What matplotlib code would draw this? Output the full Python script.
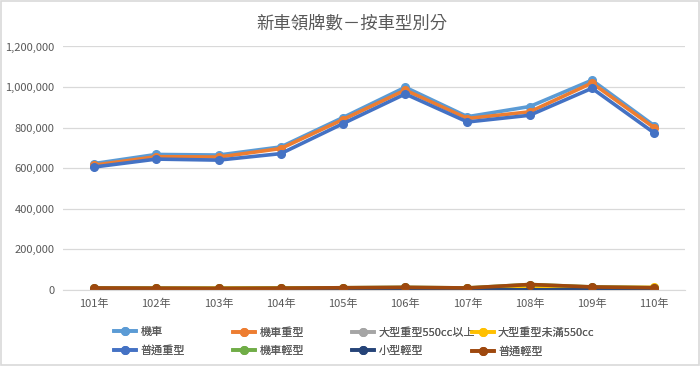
import matplotlib
matplotlib.use("Agg")
import matplotlib.pyplot as plt
from matplotlib.ticker import FuncFormatter, MultipleLocator
from matplotlib.patches import Rectangle

plt.rcParams['font.family'] = ['Noto Sans CJK TC', 'DejaVu Sans']

years = ["101年", "102年", "103年", "104年", "105年", "106年", "107年", "108年", "109年", "110年"]

motor_total = [623000, 668000, 665000, 705000, 850000, 999000, 854000, 904000, 1034000, 810000]
motor_heavy = [615000, 657000, 655000, 697000, 840000, 985000, 845000, 878000, 1020000, 800000]
large_550_up = [2000, 2200, 2500, 3000, 3300, 3600, 3500, 4000, 4200, 4000]
large_under_550 = [7000, 8000, 9000, 10000, 10000, 11000, 9000, 17000, 12000, 13000]
normal_heavy = [606000, 645000, 640000, 672000, 820000, 966000, 828000, 861000, 994000, 774000]
motor_light = [10000, 9000, 8000, 9000, 11000, 13000, 10000, 27000, 15000, 11000]
small_light = [500, 400, 400, 400, 500, 600, 500, 600, 600, 500]
normal_light = [10000, 9000, 8000, 9000, 11000, 13000, 10000, 27000, 15000, 11000]

series = [
    ("機車", motor_total, "#5B9BD5"),
    ("機車重型", motor_heavy, "#ED7D31"),
    ("大型重型550cc以上", large_550_up, "#A5A5A5"),
    ("大型重型未滿550cc", large_under_550, "#FFC000"),
    ("普通重型", normal_heavy, "#4472C4"),
    ("機車輕型", motor_light, "#70AD47"),
    ("小型輕型", small_light, "#264478"),
    ("普通輕型", normal_light, "#9E480E"),
]

fig = plt.figure(figsize=(7.0, 3.66), dpi=100)
ax = fig.add_axes([0.09, 0.2077, 0.889, 0.6653])

x = list(range(len(years)))
handles = []
for name, vals, col in series:
    h, = ax.plot(x, vals, color=col, lw=2.6, marker='o', markersize=5.5,
                 markerfacecolor=col, markeredgecolor=col, label=name,
                 solid_joinstyle='round')
    handles.append(h)

ax.set_xlim(-0.5, len(years) - 0.5)
ax.set_ylim(0, 1200000)
ax.yaxis.set_major_locator(MultipleLocator(200000))
ax.yaxis.set_major_formatter(FuncFormatter(lambda v, p: f"{int(v):,}"))
ax.set_xticks(x)
ax.set_xticklabels(years)
ax.grid(axis='y', color='#D9D9D9', lw=0.9)
ax.set_axisbelow(True)
for s in ['top', 'right', 'left']:
    ax.spines[s].set_visible(False)
ax.spines['bottom'].set_color('#D9D9D9')
ax.tick_params(axis='both', length=0, labelsize=8, colors='#595959')
ax.tick_params(axis='x', pad=6)
ax.tick_params(axis='y', pad=6)

fig.text(0.502, 0.935, "新車領牌數－按車型別分", ha='center', va='center',
         fontsize=12.5, color='#595959')

# legend: 4 columns of 2 entries, fixed spacing
col_x = [0.163, 0.333, 0.503, 0.674]
for i in range(4):
    hs = [handles[i], handles[i + 4]]
    leg = fig.legend(hs, [h.get_label() for h in hs], loc='upper left',
                     bbox_to_anchor=(col_x[i], 0.106), frameon=False,
                     fontsize=8, labelcolor='#595959', handlelength=2.0,
                     handletextpad=0.35, labelspacing=0.75, borderaxespad=0,
                     borderpad=0)
    fig.add_artist(leg)

fig.add_artist(Rectangle((0.001, 0.002), 0.997, 0.995, transform=fig.transFigure,
                         fill=False, edgecolor='#D9D9D9', lw=1.2))

fig.savefig("out.png", dpi=100, facecolor='white')
